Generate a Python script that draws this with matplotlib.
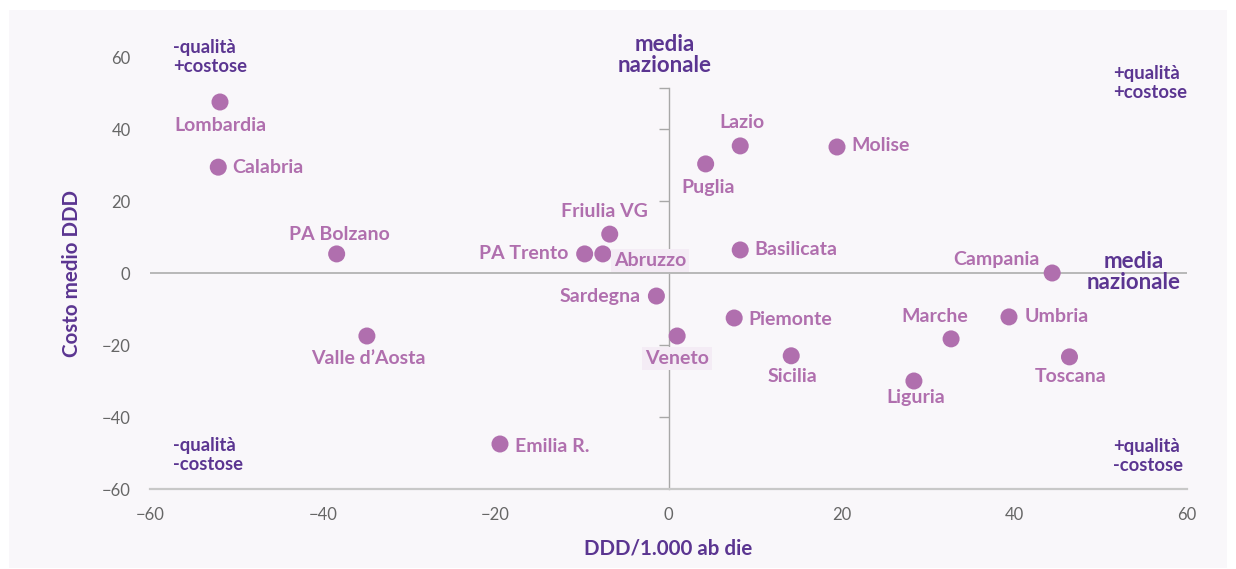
import matplotlib.pyplot as plt
from matplotlib.patches import Rectangle

# regioni: DDD/1.000 ab die (scarto dalla media) vs costo medio DDD (scarto)
regioni = ["Lombardia", "Calabria", "PA Bolzano", "Valle d\u2019Aosta", "Emilia R.",
           "Friulia VG", "PA Trento", "Abruzzo", "Sardegna", "Veneto",
           "Puglia", "Lazio", "Molise", "Basilicata", "Piemonte",
           "Sicilia", "Campania", "Umbria", "Marche", "Toscana", "Liguria"]
ddd = [-51.9, -52.1, -38.4, -34.9, -19.5,
       -6.8, -9.7, -7.6, -1.4, 1.0,
       4.3, 8.3, 19.5, 8.3, 7.6,
       14.2, 44.4, 39.4, 32.7, 46.4, 28.4]
costo = [47.5, 29.4, 5.3, -17.5, -47.5,
         10.8, 5.3, 5.3, -6.4, -17.5,
         30.3, 35.3, 35.0, 6.4, -12.5,
         -23.0, 0.0, -12.2, -18.3, -23.3, -30.0]

xticks = [-60, -40, -20, 0, 20, 40, 60]
yticks = [-60, -40, -20, 0, 20, 40, 60]

# label offsets (points) and alignment, per region
lab_pos = {
    "Lombardia": (0, -17, "center"), "Calabria": (10, 0, "left"),
    "PA Bolzano": (2, 14, "center"), "Valle d\u2019Aosta": (1, -16, "center"),
    "Emilia R.": (11, -2, "left"), "Friulia VG": (-4, 16, "center"),
    "PA Trento": (-12, 0, "right"), "Abruzzo": (8, -5, "left"),
    "Sardegna": (-11, 0, "right"), "Veneto": (0, -16, "center"),
    "Puglia": (2, -17, "center"), "Lazio": (1, 17, "center"),
    "Molise": (10, 1, "left"), "Basilicata": (10, 0, "left"),
    "Piemonte": (10, -1, "left"), "Sicilia": (1, -15, "center"),
    "Campania": (-9, 10, "right"), "Umbria": (11, 0, "left"),
    "Marche": (-12, 16, "center"), "Toscana": (1, -14, "center"),
    "Liguria": (1, -12, "center"),
}
boxed = ["Abruzzo", "Veneto"]

punto = "#b06fae"
scuro = "#5b3591"
grigio = "#666666"
linea = "#a8a8a8"
plt.rcParams['font.family'] = ['Lato', 'DejaVu Sans']

fig = plt.figure(figsize=(12.36, 5.69), dpi=100, facecolor="white")
fig.patches.append(Rectangle((9/1236, 1/569), 1218/1236, 558/569,
                             transform=fig.transFigure, facecolor="#f9f7fa",
                             edgecolor="none", zorder=-10))
ax = fig.add_axes([150/1236, 1-489/569, 1037/1236, 432/569])
ax.set_facecolor("none")
ax.set_xlim(-60, 60)
ax.set_ylim(-60, 60)

for s in ["top", "right", "left"]:
    ax.spines[s].set_visible(False)
ax.spines["bottom"].set_color("#c8c8c8")
ax.spines["bottom"].set_linewidth(1.6)
ax.set_xticks(xticks)
ax.set_yticks(yticks)
ax.tick_params(length=0, labelsize=12, labelcolor=grigio)
ax.tick_params(axis="x", pad=13)
ax.tick_params(axis="y", pad=14)

# media nazionale lines
ax.axhline(0, color="#b8b8b8", lw=1.4, zorder=1)
sec = ax.secondary_yaxis(0.5)
for sp in sec.spines.values():
    sp.set_bounds(-60, 51.5)
    sp.set_color(linea)
    sp.set_linewidth(1.0)
sec.set_yticks([-40, -20, 20, 40, 51.5])
sec.tick_params(which="both", direction="in", length=7, width=1.0, color=linea,
                labelleft=False, labelright=False)

ax.scatter(ddd, costo, s=150, color=punto, edgecolors="none", zorder=3, clip_on=False)

for nome, x, y in zip(regioni, ddd, costo):
    dx, dy, ha = lab_pos[nome]
    kw = {}
    if nome in boxed:
        kw["bbox"] = dict(boxstyle="square,pad=0.15", facecolor="#f4ecf5", edgecolor="none")
    ax.annotate(nome, (x, y), xytext=(dx, dy), textcoords="offset points",
                ha=ha, va="center", fontsize=14, fontweight="bold",
                color=punto, zorder=4, **kw)

quad = dict(fontsize=13.3, fontweight="bold", color=scuro, va="center",
            linespacing=1.15, clip_on=False)
ax.text(-57.3, 60, "-qualit\u00e0\n+costose", ha="left", **quad)
ax.text(51.4, 52.8, "+qualit\u00e0\n+costose", ha="left", **quad)
ax.text(-57.3, -50.6, "-qualit\u00e0\n-costose", ha="left", **quad)
ax.text(51.4, -50.8, "+qualit\u00e0\n-costose", ha="left", **quad)
media = dict(fontsize=16, fontweight="bold", color=scuro, va="center",
             ha="center", linespacing=1.0, clip_on=False)
ax.text(-0.4, 60.6, "media\nnazionale", **media)
ax.text(53.8, 0.3, "media\nnazionale", **media)

ax.set_xlabel("DDD/1.000 ab die", fontsize=14.8, fontweight="bold", color=scuro, labelpad=11)
ax.set_ylabel("Costo medio DDD", fontsize=14.8, fontweight="bold", color=scuro, labelpad=14)

fig.savefig("out.png", dpi=100, facecolor=fig.get_facecolor())
